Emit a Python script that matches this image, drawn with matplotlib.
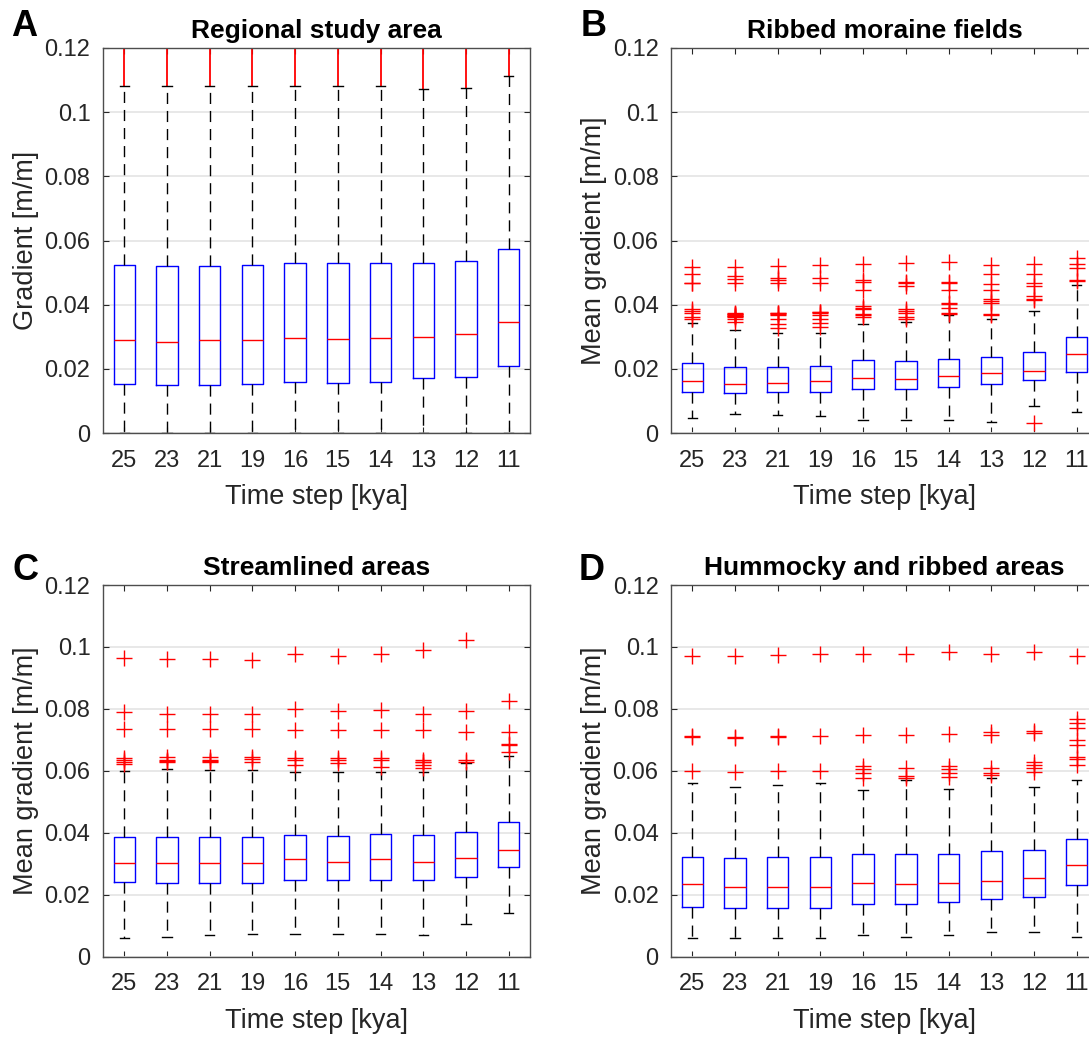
import matplotlib.pyplot as plt
import numpy as np

plt.rcParams['font.family'] = ['Liberation Sans', 'DejaVu Sans']

time_steps = ['25', '23', '21', '19', '16', '15', '14', '13', '12', '11']

# A - regional study area
a_q3 = [0.0525, 0.0521, 0.0521, 0.0525, 0.0529, 0.0529, 0.0529, 0.0529, 0.0535, 0.0574]
a_med = [0.0289, 0.0285, 0.0289, 0.0289, 0.0296, 0.0292, 0.0296, 0.0299, 0.0308, 0.0345]
a_q1 = [0.0154, 0.0149, 0.0149, 0.0154, 0.0160, 0.0157, 0.0160, 0.0170, 0.0176, 0.0209]
a_hi = [0.1081, 0.1081, 0.1081, 0.1081, 0.1081, 0.1081, 0.1081, 0.1073, 0.1076, 0.1114]
a_lo = [0.0, 0.0, 0.0, 0.0, 0.0, 0.0, 0.0, 0.0, 0.0, 0.0]
# outliers in A are so dense they form a continuous red column above the whisker
a_out_top = [0.2, 0.2, 0.2, 0.2, 0.2, 0.2, 0.2, 0.2, 0.2, 0.2]

# B - ribbed moraine fields
b_q3 = [0.0217, 0.0207, 0.0207, 0.0210, 0.0228, 0.0223, 0.0232, 0.0236, 0.0251, 0.0299]
b_med = [0.0162, 0.0153, 0.0157, 0.0162, 0.0172, 0.0169, 0.0177, 0.0186, 0.0194, 0.0247]
b_q1 = [0.0129, 0.0126, 0.0129, 0.0129, 0.0138, 0.0138, 0.0142, 0.0153, 0.0164, 0.0189]
b_hi = [0.0344, 0.0320, 0.0311, 0.0311, 0.0341, 0.0346, 0.0368, 0.0356, 0.0380, 0.0460]
b_lo = [0.0048, 0.0059, 0.0057, 0.0052, 0.0040, 0.0040, 0.0040, 0.0033, 0.0085, 0.0064]
b_out = [
    [0.0518, 0.0496, 0.0468, 0.0466, 0.0387, 0.0380, 0.0373, 0.0362, 0.0356],
    [0.0518, 0.0489, 0.0480, 0.0468, 0.0375, 0.0372, 0.0370, 0.0368, 0.0366, 0.0364, 0.0362, 0.0356, 0.0346],
    [0.0522, 0.0482, 0.0477, 0.0468, 0.0375, 0.0373, 0.0371, 0.0367, 0.0356, 0.0339, 0.0326],
    [0.0523, 0.0482, 0.0468, 0.0378, 0.0376, 0.0373, 0.0367, 0.0356, 0.0344, 0.0331],
    [0.0528, 0.0476, 0.0470, 0.0445, 0.0396, 0.0390, 0.0385, 0.0370, 0.0368, 0.0362],
    [0.0529, 0.0471, 0.0468, 0.0458, 0.0388, 0.0380, 0.0373, 0.0362, 0.0356],
    [0.0532, 0.0471, 0.0468, 0.0445, 0.0406, 0.0401, 0.0390, 0.0375, 0.0370],
    [0.0525, 0.0497, 0.0465, 0.0445, 0.0418, 0.0411, 0.0404, 0.0372, 0.0367],
    [0.0528, 0.0496, 0.0466, 0.0458, 0.0427, 0.0418, 0.0413, 0.0030],
    [0.0544, 0.0528, 0.0513, 0.0478, 0.0473],
]

# C - streamlined areas
c_q3 = [0.0385, 0.0385, 0.0385, 0.0385, 0.0394, 0.0389, 0.0397, 0.0394, 0.0404, 0.0436]
c_med = [0.0301, 0.0301, 0.0301, 0.0301, 0.0315, 0.0307, 0.0315, 0.0307, 0.0318, 0.0343]
c_q1 = [0.0240, 0.0237, 0.0237, 0.0237, 0.0248, 0.0248, 0.0248, 0.0248, 0.0256, 0.0291]
c_hi = [0.0601, 0.0606, 0.0602, 0.0602, 0.0596, 0.0596, 0.0596, 0.0596, 0.0625, 0.0647]
c_lo = [0.0059, 0.0065, 0.0069, 0.0073, 0.0073, 0.0073, 0.0073, 0.0069, 0.0105, 0.0140]
c_out = [
    [0.0965, 0.0789, 0.0736, 0.0642, 0.0636, 0.0629, 0.0623],
    [0.0962, 0.0784, 0.0736, 0.0645, 0.0634, 0.0632, 0.0630],
    [0.0962, 0.0784, 0.0736, 0.0645, 0.0634, 0.0632, 0.0630],
    [0.0959, 0.0784, 0.0736, 0.0645, 0.0638, 0.0630],
    [0.0976, 0.0800, 0.0731, 0.0642, 0.0636, 0.0618],
    [0.0970, 0.0792, 0.0733, 0.0640, 0.0636, 0.0626],
    [0.0977, 0.0796, 0.0731, 0.0642, 0.0636, 0.0613],
    [0.0989, 0.0785, 0.0733, 0.0634, 0.0630, 0.0627, 0.0618, 0.0610],
    [0.1022, 0.0792, 0.0727, 0.0636, 0.0630],
    [0.0824, 0.0725, 0.0686, 0.0683, 0.0661],
]

# D - hummocky and ribbed areas
d_q3 = [0.0321, 0.0318, 0.0321, 0.0321, 0.0331, 0.0331, 0.0331, 0.0342, 0.0345, 0.0381]
d_med = [0.0234, 0.0226, 0.0226, 0.0226, 0.0237, 0.0234, 0.0237, 0.0246, 0.0253, 0.0296]
d_q1 = [0.0162, 0.0158, 0.0158, 0.0158, 0.0170, 0.0170, 0.0175, 0.0187, 0.0194, 0.0230]
d_hi = [0.0561, 0.0547, 0.0553, 0.0561, 0.0537, 0.0571, 0.0541, 0.0577, 0.0547, 0.0569]
d_lo = [0.0061, 0.0061, 0.0061, 0.0061, 0.0069, 0.0065, 0.0069, 0.0081, 0.0081, 0.0065]
d_out = [
    [0.0970, 0.0712, 0.0710, 0.0598],
    [0.0970, 0.0709, 0.0706, 0.0596],
    [0.0973, 0.0712, 0.0710, 0.0598],
    [0.0976, 0.0712, 0.0598],
    [0.0976, 0.0715, 0.0615, 0.0606, 0.0593, 0.0577],
    [0.0976, 0.0715, 0.0609, 0.0584, 0.0577],
    [0.0984, 0.0720, 0.0615, 0.0606, 0.0593, 0.0580],
    [0.0976, 0.0726, 0.0715, 0.0609, 0.0593, 0.0588],
    [0.0984, 0.0730, 0.0722, 0.0629, 0.0620, 0.0609, 0.0596],
    [0.0970, 0.0769, 0.0753, 0.0739, 0.0701, 0.0682, 0.0645, 0.0639, 0.0618],
]

TXT = '#262626'


def make_stats(q1, med, q3, lo, hi, out):
    stats = []
    for i in range(len(med)):
        stats.append({'med': med[i], 'q1': q1[i], 'q3': q3[i],
                      'whislo': lo[i], 'whishi': hi[i],
                      'fliers': out[i] if out is not None else []})
    return stats


def draw_panel(ax, stats, title, ylabel):
    pos = np.arange(1, len(time_steps) + 1)
    ax.bxp(stats, positions=pos, widths=0.5, capwidths=0.22, showfliers=True,
           boxprops=dict(color='blue', lw=1.0),
           medianprops=dict(color='red', lw=1.0),
           whiskerprops=dict(color='black', lw=1.0, linestyle=(0, (8, 5))),
           capprops=dict(color='black', lw=1.0),
           flierprops=dict(marker='+', markeredgecolor='red', markersize=11,
                           markeredgewidth=1.0, linestyle='none'))
    ax.set_xlim(0.5, 10.5)
    ax.set_ylim(0, 0.12)
    ax.set_xticks(pos)
    ax.set_xticklabels(time_steps)
    ax.set_yticks([0, 0.02, 0.04, 0.06, 0.08, 0.1, 0.12])
    ax.set_yticklabels(['0', '0.02', '0.04', '0.06', '0.08', '0.1', '0.12'])
    ax.yaxis.grid(True, color='#e4e4e4', lw=1.2)
    ax.set_axisbelow(True)
    ax.tick_params(direction='in', top=True, right=True, length=4, width=0.8,
                   colors=TXT, labelsize=17)
    ax.tick_params(axis='x', pad=12)
    ax.tick_params(axis='y', pad=9)
    for s in ax.spines.values():
        s.set_color('#4d4d4d')
        s.set_linewidth(1.0)
    ax.set_title(title, fontsize=19, fontweight='bold', color='black', pad=7)
    ax.set_xlabel('Time step [kya]', fontsize=19.5, color=TXT, labelpad=9)
    ax.set_ylabel(ylabel, fontsize=19.5, color=TXT, labelpad=4)


W, H = 1089, 1039
fig = plt.figure(figsize=(W / 100, H / 100), dpi=100)

axA = fig.add_axes([103 / W, 1 - 433 / H, 427 / W, 385 / H])
axB = fig.add_axes([671 / W, 1 - 433 / H, 427 / W, 385 / H])
axC = fig.add_axes([103 / W, 1 - 956.7 / H, 427 / W, 371.7 / H])
axD = fig.add_axes([671 / W, 1 - 956.7 / H, 427 / W, 371.7 / H])

draw_panel(axA, make_stats(a_q1, a_med, a_q3, a_lo, a_hi, None),
           'Regional study area', 'Gradient [m/m]')
axA.vlines(np.arange(1, 11), a_hi, a_out_top, color='red', lw=1.3, zorder=1.5)

draw_panel(axB, make_stats(b_q1, b_med, b_q3, b_lo, b_hi, b_out),
           'Ribbed moraine fields', 'Mean gradient [m/m]')
draw_panel(axC, make_stats(c_q1, c_med, c_q3, c_lo, c_hi, c_out),
           'Streamlined areas', 'Mean gradient [m/m]')
draw_panel(axD, make_stats(d_q1, d_med, d_q3, d_lo, d_hi, d_out),
           'Hummocky and ribbed areas', 'Mean gradient [m/m]')

for letter, x, y in [('A', 11, 36), ('B', 581, 36), ('C', 13, 580), ('D', 579, 580)]:
    fig.text(x / W, 1 - y / H, letter, fontsize=26, fontweight='bold',
             color='black', va='baseline', ha='left')

fig.savefig('out.png', dpi=100)
